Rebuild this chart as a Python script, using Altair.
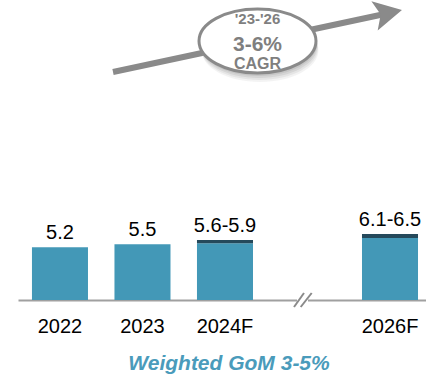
import altair as alt
import pandas as pd

# ---- data ----
categories = ["2022", "2023", "2024F", "gap", "2026F"]
bar_years = ["2022", "2023", "2024F", "2026F"]
low_vals = [5.2, 5.5, 5.6, 6.1]
high_vals = [5.2, 5.5, 5.9, 6.5]
value_labels = ["5.2", "5.5", "5.6-5.9", "6.1-6.5"]
cagr_lines = ["'23-'26", "3-6%", "CAGR"]
footer_text = "Weighted GoM 3-5%"

df = pd.DataFrame({"year": bar_years, "low": low_vals, "high": high_vals, "label": value_labels})
one = pd.DataFrame({"k": [0]})

FONT = "Liberation Sans"
TEAL = "#4398b7"
DARK = "#25495b"
GREY = "#8a8a8a"
TXT_GREY = "#7f7f7f"

x_enc = alt.X(
    "year:N",
    scale=alt.Scale(domain=categories, paddingInner=0.321, paddingOuter=0.133, align=0.636),
    axis=alt.Axis(
        title=None,
        labelExpr="datum.value == 'gap' ? '' : datum.value",
        ticks=False,
        domainColor="#a0a0a0",
        domainWidth=2,
        labelFontSize=20,
        labelFont=FONT,
        labelColor="#000000",
        labelBaseline="alphabetic",
        labelPadding=32,
        labelAngle=0,
    ),
)
y_scale = alt.Scale(domain=[0, 29.56], nice=False, zero=True)

base = alt.Chart(df)
teal_bars = base.mark_bar(color=TEAL).encode(
    x=x_enc, y=alt.Y("low:Q", scale=y_scale, axis=None)
)
dark_caps = base.transform_filter("datum.high > datum.low").mark_bar(color=DARK).encode(
    x=x_enc, y=alt.Y("low:Q", scale=y_scale, axis=None), y2="high:Q"
)
value_text = base.mark_text(
    dy=-8, baseline="alphabetic", fontSize=20, font=FONT, color="#000000"
).encode(x=x_enc, y=alt.Y("high:Q", scale=y_scale, axis=None), text="label:N")

# axis break
mask = alt.Chart(one).mark_rect(color="white").encode(
    x=alt.value(279), x2=alt.value(290), y=alt.value(296), y2=alt.value(304)
)
slash1 = alt.Chart(one).mark_rule(color=GREY, strokeWidth=2).encode(
    x=alt.value(276), y=alt.value(307), x2=alt.value(286), y2=alt.value(293)
)
slash2 = alt.Chart(one).mark_rule(color=GREY, strokeWidth=2).encode(
    x=alt.value(282.7), y=alt.value(307), x2=alt.value(293.7), y2=alt.value(293)
)

# arrow
arrow_line = alt.Chart(one).mark_rule(color=GREY, strokeWidth=6).encode(
    x=alt.value(95), y=alt.value(72), x2=alt.value(369), y2=alt.value(13.5)
)
arrow_head = alt.Chart(one).mark_point(
    shape="M1,0 L-0.87,-1 L-0.45,0 L-0.87,1 Z",
    size=900, angle=347.9, filled=True, color=GREY, opacity=1, strokeWidth=0,
).encode(x=alt.value(369.3), y=alt.value(13.2))

k = 0.5523
r = 0.547
rk = round(r * k, 4)
ell = (f"M-1,0 C-1,{-rk} {-k},{-r} 0,{-r} C{k},{-r} 1,{-rk} 1,0 "
       f"C1,{rk} {k},{r} 0,{r} C{-k},{r} -1,{rk} -1,0 Z")

shadows = []
for dx, dy, op in [(2.5, 9, 0.15), (2, 7, 0.2), (1.5, 5, 0.3), (1, 3, 0.4)]:
    shadows.append(
        alt.Chart(one).mark_point(
            shape=ell, size=13689, filled=True, color="#b0b0b0", opacity=op, strokeWidth=0
        ).encode(x=alt.value(239.5 + dx), y=alt.value(41 + dy))
    )
ellipse = alt.Chart(one).mark_point(
    shape=ell, size=13689, filled=True, fill="white", stroke=GREY, strokeWidth=3,
    opacity=1, fillOpacity=1, strokeOpacity=1,
).encode(x=alt.value(239.5), y=alt.value(41))

t1 = alt.Chart(one).mark_text(
    text=cagr_lines[0], fontSize=15, fontWeight="bold", font=FONT, color=TXT_GREY, baseline="alphabetic"
).encode(x=alt.value(239.5), y=alt.value(23.5))
t2 = alt.Chart(one).mark_text(
    text=cagr_lines[1], fontSize=21, fontWeight="bold", font=FONT, color=TXT_GREY, baseline="alphabetic"
).encode(x=alt.value(239.5), y=alt.value(51))
t3 = alt.Chart(one).mark_text(
    text=cagr_lines[2], fontSize=16, fontWeight="bold", font=FONT, color=TXT_GREY, baseline="alphabetic"
).encode(x=alt.value(239.5), y=alt.value(68.5))

footer = alt.Chart(one).mark_text(
    text=footer_text, fontSize=21, fontWeight="bold", fontStyle="italic", font=FONT,
    color="#4a9bbb", baseline="alphabetic"
).encode(x=alt.value(211), y=alt.value(370))

chart = alt.layer(
    teal_bars, dark_caps, value_text, mask, slash1, slash2,
    arrow_line, arrow_head, *shadows, ellipse, t1, t2, t3, footer
).properties(
    width=408, height=300,
    padding={"left": 18, "top": 0, "right": 0, "bottom": 77},
    autosize=alt.AutoSizeParams(type="none"),
).configure_view(stroke=None)

chart.save("out.html", embed_options={"renderer": "svg", "actions": False})
